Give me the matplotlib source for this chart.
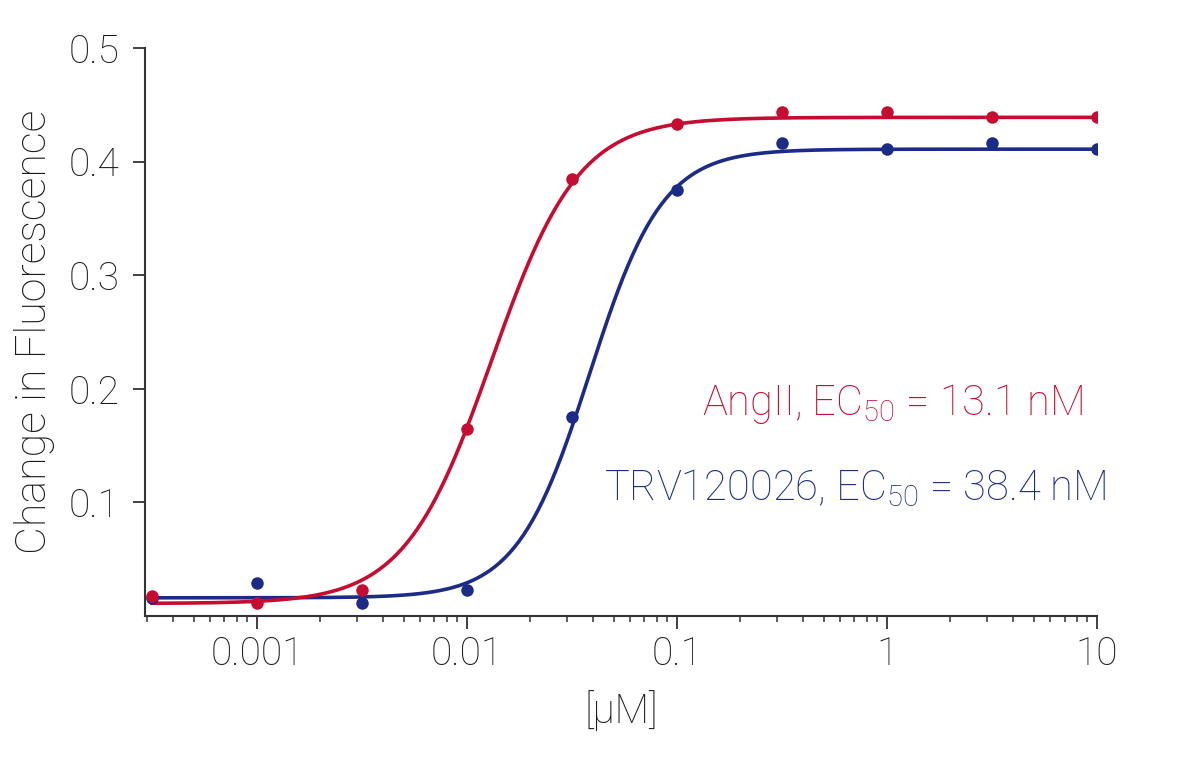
import numpy as np
import matplotlib
matplotlib.use("Agg")
import matplotlib.pyplot as plt
from matplotlib.ticker import LogLocator, NullFormatter, FixedLocator, FixedFormatter

# ---- data ----
conc = [0.000316, 0.001, 0.00316, 0.01, 0.0316, 0.1, 0.316, 1.0, 3.16, 10.0]
angii = [0.018, 0.011, 0.023, 0.165, 0.385, 0.433, 0.444, 0.444, 0.439, 0.439]
trv = [0.016, 0.029, 0.011, 0.023, 0.175, 0.375, 0.416, 0.411, 0.416, 0.411]

# fitted Hill curve parameters (bottom, top, EC50 [uM], slope)
angii_fit = dict(bottom=0.011, top=0.439, ec50=0.0131, hill=2.1)
trv_fit = dict(bottom=0.016, top=0.411, ec50=0.0384, hill=2.5)

x_ticks = [0.001, 0.01, 0.1, 1, 10]
x_labels = ["0.001", "0.01", "0.1", "1", "10"]
y_ticks = [0.1, 0.2, 0.3, 0.4, 0.5]
y_labels = ["0.1", "0.2", "0.3", "0.4", "0.5"]

RED = "#C60C30"
BLUE = "#1C2B86"
FONT = ["Roboto", "DejaVu Sans"]

plt.rcParams["font.family"] = FONT
plt.rcParams["mathtext.fontset"] = "custom"
plt.rcParams["mathtext.rm"] = "Roboto:light"
plt.rcParams["mathtext.it"] = "Roboto:light"
plt.rcParams["mathtext.bf"] = "Roboto:light"
plt.rcParams["mathtext.default"] = "rm"
WEIGHT = "light"


def hill(x, bottom, top, ec50, hill):
    x = np.asarray(x)
    return bottom + (top - bottom) / (1.0 + (ec50 / x) ** hill)


fig = plt.figure(figsize=(12, 7.63), dpi=100)
ax = fig.add_axes([0.1208, 0.1927, 0.9142 - 0.1208, 0.937 - 0.1927])

xs = np.logspace(np.log10(conc[0]), np.log10(conc[-1]), 400)
ax.plot(xs, hill(xs, **trv_fit), color=BLUE, lw=2.6, zorder=2)
ax.plot(xs, hill(xs, **angii_fit), color=RED, lw=2.6, zorder=2)
ax.plot(conc, trv, "o", color=BLUE, ms=9, mec="none", zorder=3)
ax.plot(conc, angii, "o", color=RED, ms=9, mec="none", zorder=3)

ax.set_xscale("log")
ax.set_xlim(0.000293, 10)
ax.set_ylim(0, 0.5)

for s in ["top", "right"]:
    ax.spines[s].set_visible(False)
for s in ["left", "bottom"]:
    ax.spines[s].set_color("#333333")
    ax.spines[s].set_linewidth(1.5)

ax.xaxis.set_major_locator(FixedLocator(x_ticks))
ax.xaxis.set_major_formatter(FixedFormatter(x_labels))
ax.xaxis.set_minor_locator(LogLocator(base=10, subs=np.arange(2, 10), numticks=20))
ax.xaxis.set_minor_formatter(NullFormatter())
ax.yaxis.set_major_locator(FixedLocator(y_ticks))
ax.yaxis.set_major_formatter(FixedFormatter(y_labels))

ax.tick_params(axis="x", which="major", length=9, width=1.3, color="#333333",
               pad=5, labelsize=28, labelcolor="#1a1a1a")
ax.tick_params(axis="x", which="minor", length=4, width=1.1, color="#333333")
ax.tick_params(axis="y", which="major", length=9, width=1.3, color="#333333",
               pad=9, labelsize=28, labelcolor="#1a1a1a")
for lbl in ax.get_xticklabels() + ax.get_yticklabels():
    lbl.set_fontweight(WEIGHT)

ax.set_xlabel("[µM]", fontsize=29, color="#1a1a1a", fontweight=WEIGHT, labelpad=12)
ax.set_ylabel("Change in Fluorescence", fontsize=31, color="#1a1a1a",
              fontweight=WEIGHT, labelpad=10)

ax.text(0.985, 0.373, "AngII, EC$_{50}$ = 13.1 nM", transform=ax.transAxes,
        ha="right", va="center", fontsize=30, color=RED, fontweight=WEIGHT)
ax.text(1.01, 0.225, "TRV120026, EC$_{50}$ = 38.4 nM", transform=ax.transAxes,
        ha="right", va="center", fontsize=30, color=BLUE, fontweight=WEIGHT)

fig.savefig("out.png", dpi=100)
